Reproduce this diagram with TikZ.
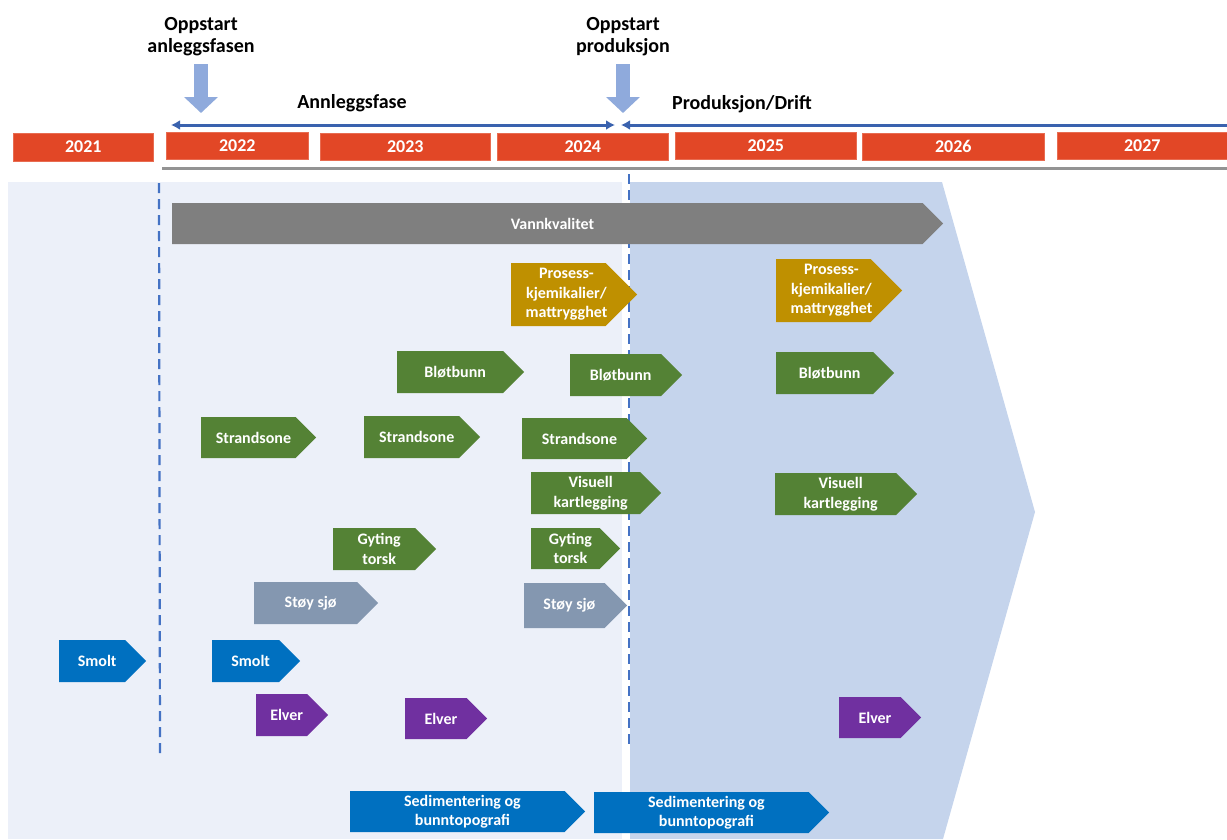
\documentclass[tikz,border=0pt]{standalone}
\usepackage{fontspec}
\setmainfont{Carlito}
\usepackage{xcolor}
\usepackage{tikz}
\usetikzlibrary{arrows.meta,shapes.symbols}

\definecolor{yearred}{HTML}{E24726}
\definecolor{actgreen}{HTML}{548235}
\definecolor{actgold}{HTML}{BF9000}
\definecolor{actgray}{HTML}{7F7F7F}
\definecolor{actnoise}{HTML}{8497B0}
\definecolor{actblue}{HTML}{0070C0}
\definecolor{actpurple}{HTML}{7030A0}
\definecolor{bgbuild}{HTML}{ECF0F9}
\definecolor{bgprod}{HTML}{C5D4EC}
\definecolor{startblue}{HTML}{8FAADC}
\definecolor{phaseblue}{HTML}{3A62AE}
\definecolor{dashblue}{HTML}{4472C4}

\newcommand{\boxfont}{\fontsize{16}{19.5}\selectfont\bfseries}
\newcommand{\yearfont}{\fontsize{18}{20}\selectfont\bfseries}
\newcommand{\headfont}{\fontsize{20}{22}\selectfont\bfseries}

\tikzset{
    activity/.style={signal, signal to=east, signal pointer angle=90, inner sep=0pt,
        anchor=west},
    boxtext/.style={text=white, font=\boxfont, align=center, xshift=5pt},
    yearbox/.style={rectangle, fill=yearred, draw=yearred!80!white, line width=0.6pt,
        text=white, font=\yearfont, anchor=west, inner sep=0pt},
    headtext/.style={font=\headfont, align=center, text=black},
    startarrow/.style={draw=startblue, line width=14pt, -{Triangle[length=16pt,width=33pt]}},
    phaseline/.style={draw=phaseblue, line width=3pt},
    phasedash/.style={draw=dashblue, line width=2.2pt, dash pattern=on 10pt off 6pt}
}

\begin{document}
\begin{tikzpicture}[x=1pt,y=-1pt]
        \useasboundingbox (0,0) rectangle (1227,839);

        % background of the two phases
        \fill[bgbuild] (8,182) rectangle (622,839);
        \fill[bgprod] (630,182) -- (942,182) -- (1035,512) -- (943,839) -- (630,839) -- cycle;

        % headings and start arrows
        \node[headtext] (opA) at (201,37) {Oppstart\\anleggsfasen};
        \node[headtext] (opP) at (623,37) {Oppstart\\produksjon};
        \coordinate (arA1) at (201,64); \coordinate (arA2) at (201,113);
        \coordinate (arP1) at (623,64); \coordinate (arP2) at (623,113);
        \draw[startarrow] (arA1) -- (arA2);
        \draw[startarrow] (arP1) -- (arP2);

        \node[headtext] (anL) at (352,103) {Annleggsfase};
        \node[headtext] (prL) at (742,104) {Produksjon/Drift};
        \coordinate (anS) at (171,125); \coordinate (anE) at (615,125);
        \coordinate (prS) at (621,125); \coordinate (prE) at (1227,125);
        \draw[phaseline,{Latex[length=9pt,width=10pt]}-{Latex[length=9pt,width=10pt]}] (anS) -- (anE);
        \draw[phaseline,{Latex[length=9pt,width=10pt]}-] (prS) -- (prE);

        % years
        \node[yearbox, minimum width=140pt, minimum height=28pt] (y2021) at (13,147) {2021};
        \node[yearbox, minimum width=142pt, minimum height=27pt] (y2022) at (166,145.5) {2022};
        \node[yearbox, minimum width=170pt, minimum height=27pt] (y2023) at (320,146.5) {2023};
        \node[yearbox, minimum width=171pt, minimum height=27pt] (y2024) at (497,146.5) {2024};
        \node[yearbox, minimum width=181pt, minimum height=27pt] (y2025) at (675,145.5) {2025};
        \node[yearbox, minimum width=182pt, minimum height=27pt] (y2026) at (862,146.5) {2026};
        \node[yearbox, minimum width=170pt, minimum height=27pt] (y2027) at (1057,145.5) {2027};
        \draw[draw=gray!85, line width=3pt] (162,168) -- (1227,168);

        % phase borders
        \draw[phasedash] (159,183) -- (160,755);
        \draw[phasedash] (629,174) -- (629,748);

        % activities
        \node[activity, fill=actgray, minimum width=771pt, minimum height=41pt,
            label={[boxtext]center:Vannkvalitet}] (vann) at (172,223.5) {};

        \node[activity, fill=actgold, minimum width=126pt, minimum height=63pt,
            label={[boxtext,xshift=3pt]center:Prosess-\\kjemikalier/\\mattrygghet}] (prosA) at (511,294.5) {};
        \node[activity, fill=actgold, minimum width=126pt, minimum height=63pt,
            label={[boxtext,xshift=3pt]center:Prosess-\\kjemikalier/\\mattrygghet}] (prosB) at (776,290.5) {};

        \node[activity, fill=actgreen, minimum width=127pt, minimum height=42pt,
            label={[boxtext]center:Bløtbunn}] (blotA) at (397,372) {};
        \node[activity, fill=actgreen, minimum width=112pt, minimum height=42pt,
            label={[boxtext]center:Bløtbunn}] (blotB) at (570,375) {};
        \node[activity, fill=actgreen, minimum width=118pt, minimum height=42pt,
            label={[boxtext]center:Bløtbunn}] (blotC) at (776,373) {};

        \node[activity, fill=actgreen, minimum width=115pt, minimum height=41pt,
            label={[boxtext]center:Strandsone}] (strA) at (201,437.5) {};
        \node[activity, fill=actgreen, minimum width=116pt, minimum height=42pt,
            label={[boxtext]center:Strandsone}] (strB) at (364,437) {};
        \node[activity, fill=actgreen, minimum width=125pt, minimum height=41pt,
            label={[boxtext]center:Strandsone}] (strC) at (522,438.5) {};

        \node[activity, fill=actgreen, minimum width=130pt, minimum height=42pt,
            label={[boxtext]center:Visuell\\kartlegging}] (visA) at (531,493) {};
        \node[activity, fill=actgreen, minimum width=142pt, minimum height=42pt,
            label={[boxtext]center:Visuell\\kartlegging}] (visB) at (775,494) {};

        \node[activity, fill=actgreen, minimum width=103pt, minimum height=42pt,
            label={[boxtext]center:Gyting\\torsk}] (gytA) at (333,549) {};
        \node[activity, fill=actgreen, minimum width=89pt, minimum height=41pt,
            label={[boxtext]center:Gyting\\torsk}] (gytB) at (531,548.5) {};

        \node[activity, fill=actnoise, minimum width=124pt, minimum height=42pt,
            label={[boxtext]center:Støy sjø}] (stoyA) at (254,603) {};
        \node[activity, fill=actnoise, minimum width=103pt, minimum height=45pt,
            label={[boxtext]center:Støy sjø}] (stoyB) at (524,605.5) {};

        \node[activity, fill=actblue, minimum width=87pt, minimum height=42pt,
            label={[boxtext]center:Smolt}] (smoltA) at (59,661) {};
        \node[activity, fill=actblue, minimum width=88pt, minimum height=42pt,
            label={[boxtext]center:Smolt}] (smoltB) at (212,661) {};

        \node[activity, fill=actpurple, minimum width=72pt, minimum height=42pt,
            label={[boxtext]center:Elver}] (elvA) at (256,715) {};
        \node[activity, fill=actpurple, minimum width=82pt, minimum height=41pt,
            label={[boxtext]center:Elver}] (elvB) at (405,718.5) {};
        \node[activity, fill=actpurple, minimum width=82pt, minimum height=41pt,
            label={[boxtext]center:Elver}] (elvC) at (839,717.5) {};

        \node[activity, fill=actblue, minimum width=235pt, minimum height=41pt,
            label={[boxtext]center:Sedimentering og\\bunntopografi}] (sedA) at (350,811.5) {};
        \node[activity, fill=actblue, minimum width=235pt, minimum height=41pt,
            label={[boxtext]center:Sedimentering og\\bunntopografi}] (sedB) at (594,812.5) {};
\end{tikzpicture}
\end{document}
